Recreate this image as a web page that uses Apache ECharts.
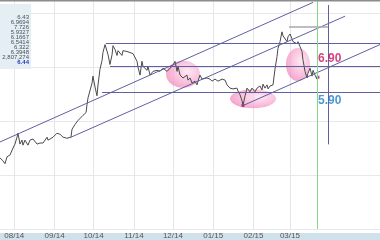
<!DOCTYPE html>
<html><head><meta charset="utf-8">
<script src="https://cdn.jsdelivr.net/npm/echarts@6/dist/echarts.min.js"></script>
<style>
html,body{margin:0;padding:0;background:#fff;}
#c{width:380px;height:240px;background:linear-gradient(to bottom,#ffffff 0,#ffffff 233px,#cfe2ec 233px,#cfe2ec 240px);}
</style></head>
<body><div id="c"></div>
<script>
// ---- data ----
const startDate = '2014-07-21';
const endDate = '2015-05-09T07:12:00Z';
const monthTicks = ['2014-08-01','2014-09-01','2014-10-01','2014-11-01','2014-12-01','2015-01-01','2015-02-01','2015-03-01'];
const monthLabels = ['08/14','09/14','10/14','11/14','12/14','01/15','02/15','03/15'];
// days since startDate
const priceDay = [0,2.3,3.8,5.4,7.7,9.2,10,11.5,13.1,13.8,15.4,16.9,17.7,19.2,21.5,23.1,25.4,26.9,28.5,30.8,33.1,36.2,36.9,38.5,40.8,43.8,44.6,46.2,48.5,51.5,54.6,55.4,56.2,57.7,60,61.5,63.8,66.2,66.9,67.7,70.8,71.5,73.1,74.6,75.4,76.9,78.5,79.2,80.8,82.3,83.1,84.6,86.2,86.9,88.5,90,90.8,92.3,93.8,94.6,97.7,100,101.5,102.3,103.8,105.4,106.2,107.7,109.2,110,111.5,113.1,113.8,115.4,116.9,117.7,119.2,120.8,121.5,123.1,125.4,128.5,130.8,133.1,134.6,136.2,136.9,138.5,140,140.8,143.8,144.6,146.2,147.7,150,151.5,153.8,155.4,156.2,159.2,161.5,163.1,165.4,167.7,170.8,173.1,174.6,176.9,179.2,182.3,183.1,184.6,186.2,186.9,188.5,190,190.8,192.3,193.8,194.6,196.2,197.7,198.5,200,201.5,202.3,203.8,205.4,206.2,207.7,209.2,210,211.5,213.1,213.8,215.4,216.9,217.7,219.2,220.8,221.5,223.1,224.6,225.4,226.9,228.5,229.2,230.8,232.3,233.1,233.8,234.6,236.2,236.9,238.5,240,240.8,242.3,243.8,244.6];
const priceVal = [3.43,3.32,3.21,3.47,3.54,3.58,3.80,3.95,4.21,4.36,3.95,4.10,3.91,4.10,3.91,4.10,4.14,4.10,3.95,3.99,3.99,4.21,4.10,4.14,4.21,4.36,4.29,4.32,4.21,4.17,4.21,4.51,4.47,4.69,4.84,4.77,5.03,5.14,5.43,5.69,6.25,6.51,6.10,5.77,6.18,6.77,7.10,7.40,7.70,7.66,7.32,6.95,7.32,7.66,7.51,7.29,7.47,7.40,7.29,7.47,7.44,7.40,7.44,7.36,7.36,7.07,6.84,6.55,7.07,6.88,6.81,6.73,6.88,6.55,6.51,6.69,6.62,6.73,6.73,6.69,6.81,6.69,6.81,6.92,7.07,6.69,6.88,6.55,6.62,6.44,6.55,6.36,6.44,6.25,6.32,6.18,6.55,6.40,6.36,6.44,6.40,6.32,6.40,6.32,6.40,6.36,6.18,6.06,6.03,6.06,5.95,5.81,5.58,5.40,5.77,6.06,5.99,5.92,6.06,5.99,5.92,6.06,5.99,6.14,5.99,6.21,6.06,6.18,6.03,6.14,6.21,6.18,6.77,7.25,7.55,7.81,8.18,8.03,8.10,7.81,7.99,8.10,7.92,7.81,7.84,7.73,7.81,7.62,7.44,7.10,6.92,6.69,6.44,6.62,6.81,6.51,6.73,6.55,6.40,6.47];
// channel lines: [startDay, startPrice, endDay, endPrice]
const channelLines = [[0,4.03,240.8,9.29],[54.6,4.21,265.4,8.77],[186.9,5.40,292.3,7.70]];
// horizontal levels: [price, fromDay]
const levelLines = [[7.76,81.5],[6.90,84.6],[5.90,78.5]];
const markLevel = [8.38, 222.3, 252.3];   // short gray level
const vertLine = [252.3, 9.19, 3.94];     // purple vertical
const todayDay = 243.8;                    // green line
const levelTexts = ['6.90','5.90'];
const levelTextPrices = [6.90, 5.90];
const levelTextDay = 244.6;
// highlighted zones: [day, price]
const zoneCenters = [[140.8,6.58],[194.6,5.66],[229.2,6.95]];
const markerPts = [[186.9,5.40],[244.6,6.47]];
const infoValues = ['6.43','6.9694','7.726','5.9327','6.1667','6.5414','6.322','6.3948','2,807,274','6.44'];

// ---- build ----
const DAY = 86400000;
const t0 = Date.parse(startDate + 'T00:00:00Z');
const xMax = (Date.parse(endDate) - t0) / DAY;
const tickVals = monthTicks.map(s => (Date.parse(s + 'T00:00:00Z') - t0) / DAY);
const n = Math.min(priceDay.length, priceVal.length);
const priceData = [];
for (let i = 0; i < n; i++) priceData.push([priceDay[i], priceVal[i]]);

const purple = '#5f5fa2';
const ml = [];
channelLines.forEach(c => ml.push([{coord:[c[0],c[1]]},{coord:[c[2],c[3]]}]));
levelLines.forEach(l => ml.push([{coord:[l[1],l[0]]},{coord:[xMax,l[0]]}]));
ml.push([{coord:[markLevel[1],markLevel[0]],lineStyle:{color:'#a8a8a8',width:1.5}},{coord:[markLevel[2],markLevel[0]]}]);
ml.push([{coord:[vertLine[0],vertLine[1]]},{coord:[vertLine[0],vertLine[2]]}]);
ml.push({xAxis:todayDay, lineStyle:{color:'#86da86',width:1}});

const zoneSizes = [[34,27],[46,19],[24,33]];
const zoneGrad = {type:'radial',x:0.62,y:0.4,r:0.7,colorStops:[
  {offset:0,color:'rgba(253,225,239,0.9)'},{offset:0.6,color:'rgba(247,165,205,0.9)'},{offset:1,color:'rgba(238,122,180,0.88)'}]};

const chart = echarts.init(document.getElementById('c'), null, {renderer:'canvas'});
const infoGraphics = infoValues.map((v,i) => ({
  type:'text', z:101, style:{text:v, x:29, y:17+5*i, align:'right', verticalAlign:'middle',
  fontSize:6, fontFamily:'Liberation Sans, Arial, sans-serif',
  fill: i===infoValues.length-1 ? '#2038c0' : '#45505c', fontWeight: i===infoValues.length-1 ? 'bold':'normal'}}));

chart.setOption({
  animation:false,
  backgroundColor:'transparent',
  grid:{left:0,right:0,top:0,bottom:7,containLabel:false},
  xAxis:{type:'value', min:0, max:xMax,
    axisLine:{show:false},
    axisTick:{show:false, customValues:tickVals},
    axisLabel:{customValues:tickVals, margin:3, fontSize:8, color:'#555',
      fontFamily:'Liberation Sans, Arial, sans-serif',
      formatter: v => { let k = -1; tickVals.forEach((t,j)=>{ if (Math.abs(t-v)<0.01) k=j; }); return k>=0 ? monthLabels[k] : ''; }},
    splitLine:{show:true, lineStyle:{color:'#e6e6e6',width:1}}},
  yAxis:[
    {type:'value', min:0.75, max:9.38, show:false},
    {type:'value', min:0, max:4.236, interval:1, axisLine:{show:false}, axisTick:{show:false},
      axisLabel:{show:false}, splitLine:{show:true,lineStyle:{color:'#e8e8e8'}}}
  ],
  graphic:[
    {type:'rect', z:100, shape:{x:0,y:0,width:380,height:1.5}, style:{fill:'#8c8c8c'}},
    {type:'rect', z:100, shape:{x:0,y:4,width:31,height:65}, style:{fill:'#e4eef3'}},
    ...infoGraphics
  ],
  series:[
    {type:'scatter', z:1, silent:true, symbol:'circle',
      data: zoneCenters.map((c,i)=>({value:[c[0],c[1]], symbolSize:zoneSizes[i]})),
      itemStyle:{color:zoneGrad}},
    {type:'line', z:3, data:priceData, showSymbol:false, symbol:'none',
      lineStyle:{color:'#4a4a4a',width:1},
      markLine:{silent:true, symbol:'none', label:{show:false}, lineStyle:{color:purple,width:1,type:'solid'},
        animation:false, data:ml}},
    {type:'scatter', z:4, symbol:'rect', symbolSize:3, silent:true,
      data: markerPts.map(p=>[p[0],p[1]]), itemStyle:{color:'#a02a60'}},
    {type:'scatter', z:5, symbolSize:0, silent:true,
      data: levelTexts.map((s,i)=>({value:[levelTextDay,levelTextPrices[i]],
        label:{show:true, formatter:s, position:[0,i===0?-1:2], align:'left',
          verticalAlign: i===0?'bottom':'top', fontSize:12, fontWeight:'bold',
          fontFamily:'Liberation Sans, Arial, sans-serif',
          color: i===0?'#c8145e':'#1f80c6'}}))}
  ]
});
</script></body></html>
